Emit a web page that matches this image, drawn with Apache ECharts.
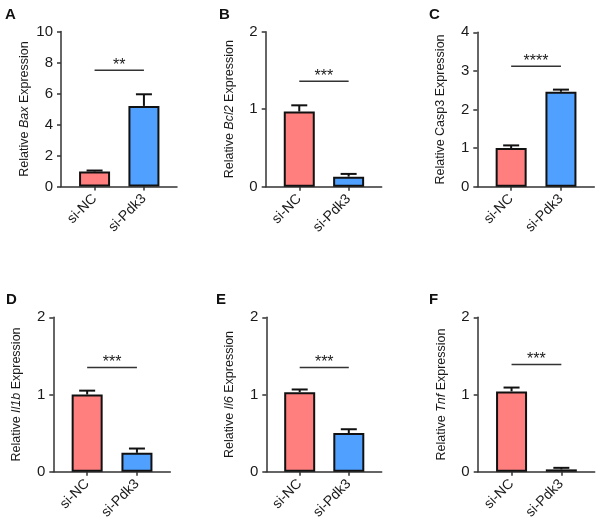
<!DOCTYPE html>
<html>
<head>
<meta charset="utf-8">
<script src="https://cdn.jsdelivr.net/npm/echarts@6/dist/echarts.min.js"></script>
<style>
html,body{margin:0;padding:0;background:#fff;}
#chart{width:600px;height:523px;}
</style>
</head>
<body>
<div id="chart"></div>
<script>
// ---------- data ----------
const categories = ['si-NC', 'si-Pdk3'];
const panelLetters = ['A', 'B', 'C', 'D', 'E', 'F'];
const genes = ['Bax', 'Bcl2', 'Casp3', 'Il1b', 'Il6', 'Tnf'];
const geneItalic = [true, true, false, true, true, true];
const meanNC = [0.97, 0.97, 1.0, 1.0, 1.03, 1.04];
const errNC = [0.06, 0.08, 0.07, 0.05, 0.035, 0.05];
const meanPdk3 = [5.2, 0.13, 2.46, 0.245, 0.50, 0.03];
const errPdk3 = [0.75, 0.035, 0.055, 0.055, 0.05, 0.02];
const sigLevel = [7.5, 1.36, 3.12, 1.35, 1.35, 1.39];
const sigLabel = ['**', '***', '****', '***', '***', '***'];
const yMax = [10, 2, 4, 2, 2, 2];
const yInterval = [2, 1, 1, 1, 1, 1];

// ---------- layout / style ----------
const gridBoxes = [
  {left: 61, top: 31.5, width: 116, height: 155},
  {left: 265.7, top: 31.7, width: 116, height: 155},
  {left: 477.3, top: 32.3, width: 117, height: 154.4},
  {left: 53.3, top: 317.3, width: 117, height: 154.4},
  {left: 266.3, top: 317.3, width: 115.4, height: 154.4},
  {left: 477.7, top: 317.3, width: 117, height: 154.4}
];
const letterPos = [[5, 7], [219, 7], [429, 7], [6, 292], [216, 292], [429, 292]];
const FONT = 'Liberation Sans';
const AXIS_COLOR = '#333';
const TEXT_COLOR = '#1a1a1a';
const colorNC = '#FF7F7F';
const colorPdk3 = '#50A0FF';

const grids = [], xAxes = [], yAxes = [], series = [], titles = [];

for (let i = 0; i < 6; i++) {
  const g = gridBoxes[i];
  grids.push({left: g.left, top: g.top, width: g.width, height: g.height, containLabel: false});
  titles.push({
    text: panelLetters[i], left: letterPos[i][0], top: letterPos[i][1], padding: 0,
    textStyle: {fontSize: 15, fontWeight: 'bold', color: '#111', fontFamily: FONT}
  });
  xAxes.push({
    gridIndex: i, type: 'value', min: -0.68, max: 1.67,
    axisLine: {show: true, onZero: false, lineStyle: {color: AXIS_COLOR, width: 1.5}},
    axisTick: {show: true, customValues: [0, 1], length: 4, lineStyle: {color: AXIS_COLOR, width: 1.5}},
    axisLabel: {
      show: true, customValues: [0, 1], rotate: 45, margin: 10,
      fontSize: 14, color: TEXT_COLOR, fontFamily: FONT,
      formatter: v => categories[Math.round(v)]
    },
    splitLine: {show: false}
  });
  const gname = geneItalic[i] ? 'Relative {i|' + genes[i] + '} Expression' : 'Relative ' + genes[i] + ' Expression';
  yAxes.push({
    gridIndex: i, type: 'value', min: 0, max: yMax[i], interval: yInterval[i],
    name: gname, nameLocation: 'middle', nameGap: 30,
    nameTextStyle: {
      fontSize: 12.5, color: TEXT_COLOR, fontFamily: FONT,
      rich: {i: {fontSize: 12.5, fontStyle: 'italic', color: TEXT_COLOR, fontFamily: FONT}}
    },
    axisLine: {show: true, onZero: false, lineStyle: {color: AXIS_COLOR, width: 1.5}},
    axisTick: {show: true, length: 4, lineStyle: {color: AXIS_COLOR, width: 1.5}},
    axisLabel: {fontSize: 15, color: TEXT_COLOR, fontFamily: FONT, margin: 8},
    splitLine: {show: false}
  });
  series.push({
    type: 'bar', xAxisIndex: i, yAxisIndex: i, barWidth: 31,
    itemStyle: {borderColor: '#111', borderWidth: 2},
    data: [
      {value: [0, meanNC[i]], itemStyle: {color: colorNC}},
      {value: [1, meanPdk3[i]], itemStyle: {color: colorPdk3}}
    ],
    z: 2
  });
  series.push({
    type: 'custom', xAxisIndex: i, yAxisIndex: i,
    encode: {x: 0, y: 1},
    data: [[0, meanNC[i], errNC[i]], [1, meanPdk3[i], errPdk3[i]]],
    renderItem: (params, api) => {
      const x = api.value(0), m = api.value(1), e = api.value(2);
      const p0 = api.coord([x, m]);
      const p1 = api.coord([x, m + e]);
      return {
        type: 'group',
        children: [
          {type: 'line', shape: {x1: p0[0], y1: p0[1], x2: p1[0], y2: p1[1]}, style: {stroke: '#111', lineWidth: 2}},
          {type: 'line', shape: {x1: p1[0] - 8, y1: p1[1], x2: p1[0] + 8, y2: p1[1]}, style: {stroke: '#111', lineWidth: 2}}
        ]
      };
    },
    z: 3
  });
  series.push({
    type: 'custom', xAxisIndex: i, yAxisIndex: i,
    encode: {x: 0, y: 1},
    data: [[0, sigLevel[i], 1]],
    renderItem: (params, api) => {
      const lvl = api.value(1);
      const a = api.coord([api.value(0), lvl]);
      const b = api.coord([api.value(2), lvl]);
      return {
        type: 'group',
        children: [
          {type: 'line', shape: {x1: a[0], y1: a[1], x2: b[0], y2: b[1]}, style: {stroke: '#333', lineWidth: 1.5}},
          {type: 'text', style: {text: sigLabel[params.seriesIndex / 3 | 0], x: (a[0] + b[0]) / 2, y: a[1] + 3,
            align: 'center', verticalAlign: 'bottom', fontSize: 16, fontFamily: FONT, fill: TEXT_COLOR}}
        ]
      };
    },
    z: 3
  });
}

const chart = echarts.init(document.getElementById('chart'), null, {renderer: 'canvas'});
chart.setOption({
  animation: false,
  backgroundColor: '#fff',
  title: titles,
  grid: grids,
  xAxis: xAxes,
  yAxis: yAxes,
  series: series
});
</script>
</body>
</html>
